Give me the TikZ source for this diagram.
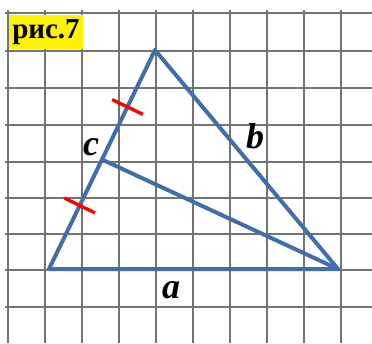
\documentclass[tikz,border=0pt]{standalone}
\usepackage{fontspec}
\setmainfont{Liberation Serif}
\usetikzlibrary{calc}
\definecolor{edgeblue}{RGB}{64,110,172}

\begin{document}
\begin{tikzpicture}[x=1pt,y=-1pt,
  gridline/.style={black!55,line width=1.5pt},
  side/.style={edgeblue,line width=4pt,line join=round,line cap=round},
  hashmark/.style={red,line width=3.4pt},
  lbl/.style={font=\fontsize{36}{36}\selectfont\bfseries\itshape,inner sep=0pt}]
  \useasboundingbox (0,0) rectangle (372,343);
  % grid
  \foreach \x in {8,45,82,119,156,193,230,267,304,341}
    \draw[gridline] (\x,10) -- (\x,343);
  \foreach \y in {13,51,88,125,162,198,234,270,307}
    \draw[gridline] (5,\y) -- (372,\y);
  % title
  \node[fill=yellow,inner sep=0pt,minimum width=74pt,minimum height=34pt,
    font=\fontsize{29}{29}\selectfont\bfseries] (title) at (46,32) {рис.7};
  % triangle
  \coordinate (A) at (49,269);
  \coordinate (B) at (155,50);
  \coordinate (C) at (338,269);
  \coordinate (M) at ($(A)!0.5!(B)$);
  \draw[side] (A) -- (B) -- (C) -- cycle;
  \draw[side] (M) -- (C);
  % equal halves of c
  \coordinate (t1) at ($(A)!0.29!(B)$);
  \coordinate (t2) at ($(A)!0.74!(B)$);
  \draw[hashmark] ($(t1)!17pt!90:(B)$) -- ($(t1)!17pt!-90:(B)$);
  \draw[hashmark] ($(t2)!17pt!90:(B)$) -- ($(t2)!17pt!-90:(B)$);
  % side names
  \node[lbl] (lc) at (91,147) {c};
  \node[lbl] (lb) at (255,136) {b};
  \node[lbl] (la) at (171,290) {a};
\end{tikzpicture}
\end{document}
